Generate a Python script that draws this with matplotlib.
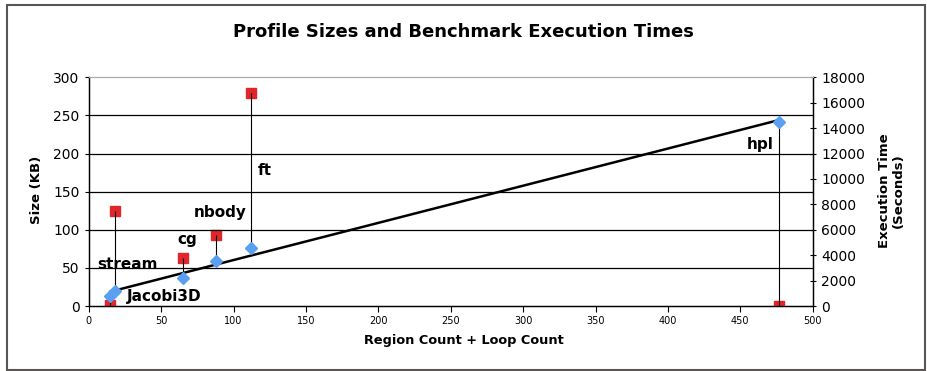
import numpy as np
import matplotlib.pyplot as plt
from matplotlib.patches import Rectangle

# benchmarks
names = ['Jacobi3D', 'stream', 'cg', 'nbody', 'ft', 'hpl']
counts = [15, 18, 65, 88, 112, 477]          # region count + loop count
size_kb = [13, 20, 37, 59, 76, 242]          # profile size (KB)
exec_time = [100, 7500, 3800, 5600, 16800, 20]  # execution time (s)

# label placement, offset in pixels from the size marker
label_off = [(16, 0), (13, 26), (4, 38), (4, 49), (14, 78), (-19, -23)]
label_ha = ['left', 'center', 'center', 'center', 'center', 'center']

fig = plt.figure(figsize=(9.27, 3.71), dpi=100)
ax = fig.add_axes([0.0957, 0.1752, 0.781, 0.6164])
ax2 = ax.twinx()

# scale between the two y axes
ratio = 18000 / 300

ax.set_xlim(0, 500)
ax.set_ylim(0, 300)
ax2.set_ylim(0, 18000)

for v in range(50, 300, 50):
    ax.axhline(v, color='black', lw=0.9, zorder=1)

# drop lines between size and time
ax.vlines(counts, size_kb, np.array(exec_time) / ratio, color='black', lw=0.8, zorder=2)

# linear trend of size
k, b = np.polyfit(counts, size_kb, 1)
xs = np.array([min(counts), max(counts)])
ax.plot(xs, k * xs + b, color='black', lw=1.8, zorder=3)

ax.plot(counts, size_kb, 'D', color='#5a9ff0', ms=6.5, mec='#5a9ff0', zorder=4)
ax2.plot(counts, exec_time, 's', color='#e0262b', ms=7.5, zorder=4)

for n, x, y, off, ha in zip(names, counts, size_kb, label_off, label_ha):
    ax.annotate(n, (x, y), xytext=off, textcoords='offset pixels', ha=ha, va='center',
                fontsize=11, fontweight='bold', zorder=6)

ax.set_yticks(range(0, 301, 50))
ax.set_xticks(range(0, 501, 50))
ax2.set_yticks(range(0, 18001, 2000))
ax.tick_params(axis='y', labelsize=10, length=3, direction='out')
ax.tick_params(axis='x', labelsize=7, length=4, direction='out')
ax2.tick_params(axis='y', labelsize=10, length=5, direction='inout')

for a in (ax, ax2):
    a.spines['top'].set_color('#aaaaaa')
    a.spines['top'].set_linewidth(0.8)
    a.spines['left'].set_linewidth(0.9)
    a.spines['right'].set_linewidth(0.9)
    a.spines['bottom'].set_linewidth(0.9)
ax.set_zorder(ax2.get_zorder() + 1)
ax.patch.set_visible(False)

fig.text(0.5, 0.914, 'Profile Sizes and Benchmark Execution Times', ha='center', va='center',
         fontsize=13, fontweight='bold')
fig.text(0.5, 0.081, 'Region Count + Loop Count', ha='center', va='center',
         fontsize=9.3, fontweight='bold')
fig.text(0.0395, 0.488, 'Size (KB)', rotation=90, ha='center', va='center',
         fontsize=9.5, fontweight='bold')
fig.text(0.962, 0.485, 'Execution Time\n(Seconds)', rotation=90, ha='center', va='center',
         fontsize=9.5, fontweight='bold', linespacing=1.1)

fig.patches.append(Rectangle((0.0075, 0.003), 0.9903, 0.9835, transform=fig.transFigure,
                             fill=False, edgecolor='#5a5555', lw=1.5))

fig.savefig('out.png', dpi=100)
